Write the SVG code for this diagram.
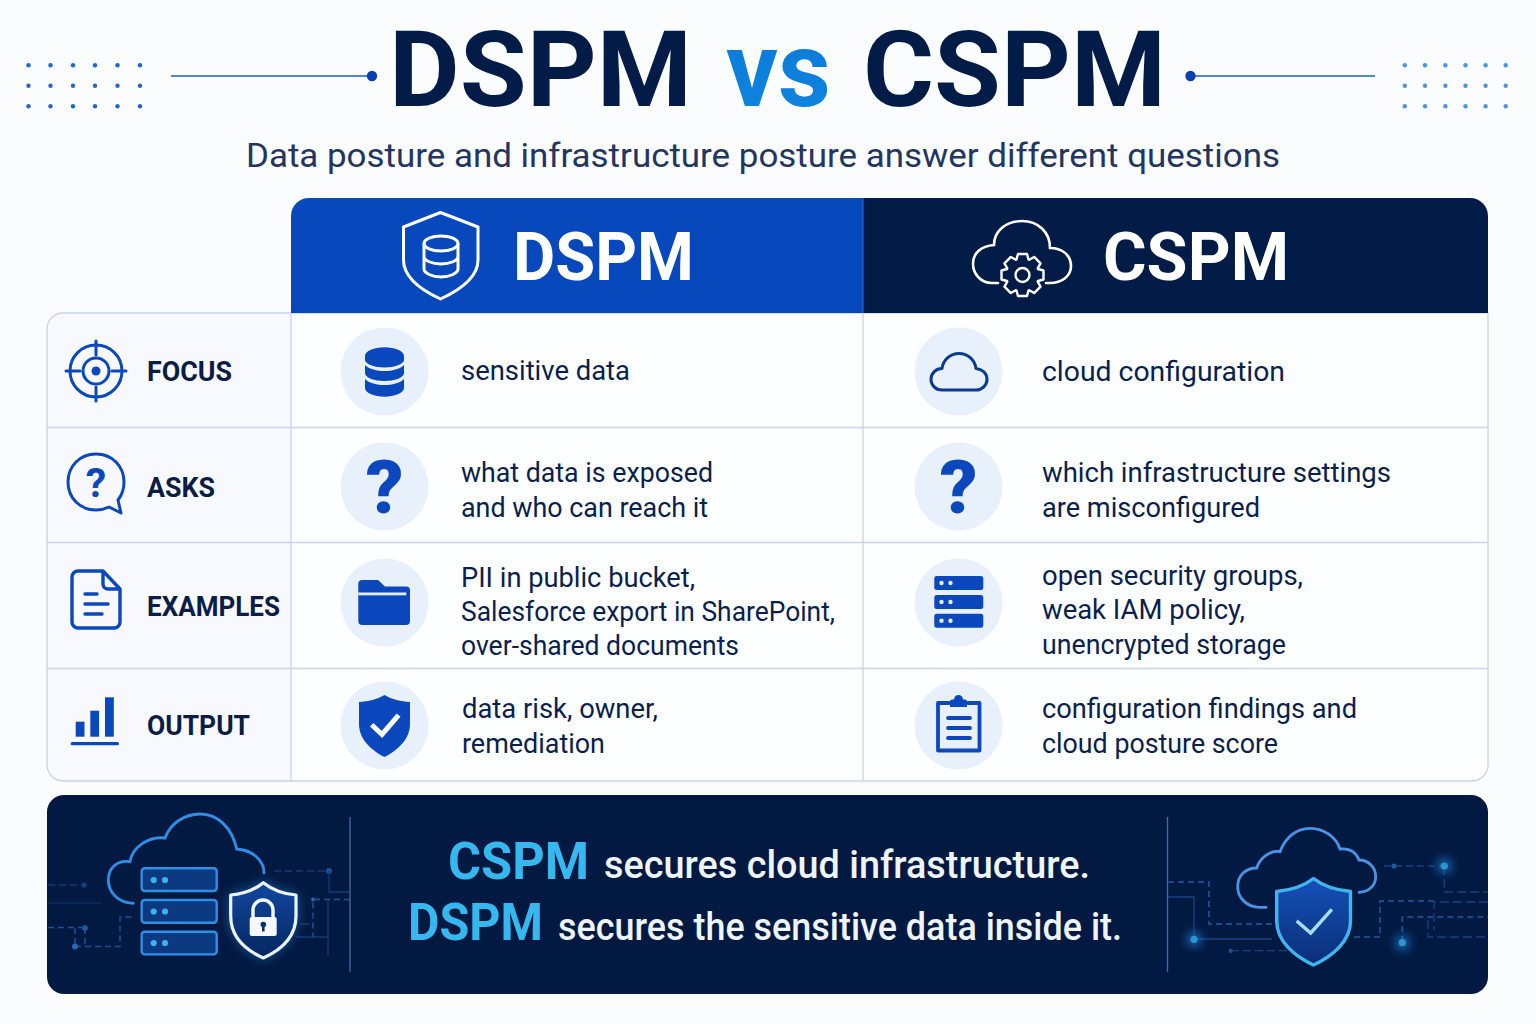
<svg xmlns="http://www.w3.org/2000/svg" width="1536" height="1024" viewBox="0 0 1536 1024">
<style>
text{font-family:Roboto,"Liberation Sans",sans-serif}
.title{font-size:106px;font-weight:700;fill:#031c47}
.sub{font-size:33px;fill:#24365f}
.hd{font-size:66px;font-weight:700;fill:#fff}
.lab{font-size:27px;font-weight:700;fill:#0b1c45}
.body{font-size:28px;fill:#0b1f4d}
.ban{font-size:38px;font-weight:500;fill:#eef4fc}
.banb{font-size:52px;font-weight:700;fill:#36b8ee}
.grid{stroke:#c6d4ec;stroke-width:1.3;fill:none}
.disc{fill:#e8f0fb}
.ic{fill:none;stroke:#0b48bd;stroke-linecap:round;stroke-linejoin:round}
.sol{fill:#0b48bd}
.q{font-size:74px;font-weight:900;fill:#0b48bd;text-anchor:middle}
.circ{fill:none;stroke:#2a6fc4;stroke-width:1.5;stroke-dasharray:6 4}
.circ2{fill:none;stroke:#1b4f96;stroke-width:1.3}
.srv{fill:#0b3a80;stroke:#2f8fe6;stroke-width:2.4}
.sd{fill:#3fb0f2}
</style>
<defs>
<linearGradient id="vs" x1="0" y1="0" x2="0" y2="1"><stop offset="0" stop-color="#0a78d8"/><stop offset="1" stop-color="#0f86e0"/></linearGradient>
<linearGradient id="sh1" x1="0" y1="0" x2="0" y2="1"><stop offset="0" stop-color="#12479f"/><stop offset="1" stop-color="#06265f"/></linearGradient>
<linearGradient id="sh2" x1="0" y1="0" x2="0" y2="1"><stop offset="0" stop-color="#1550b8"/><stop offset="1" stop-color="#0a2f78"/></linearGradient>
<filter id="gl" x="-60%" y="-60%" width="220%" height="220%"><feGaussianBlur stdDeviation="6"/></filter>
<filter id="gl2" x="-200%" y="-200%" width="500%" height="500%"><feGaussianBlur stdDeviation="5"/></filter>
<g id="dots"><circle cx="0" cy="0" r="2.2"/><circle cx="22" cy="0" r="2.2"/><circle cx="44.5" cy="0" r="2.2"/><circle cx="66.5" cy="0" r="2.2"/><circle cx="89" cy="0" r="2.2"/><circle cx="111.5" cy="0" r="2.2"/></g>
<g id="dots2"><circle cx="0" cy="0" r="2.2"/><circle cx="20.2" cy="0" r="2.2"/><circle cx="40.6" cy="0" r="2.2"/><circle cx="60.7" cy="0" r="2.2"/><circle cx="80.8" cy="0" r="2.2"/><circle cx="100.9" cy="0" r="2.2"/></g>
</defs>
<rect width="1536" height="1024" fill="#fbfcfe"/>

<g id="title">
<text class="title" x="389" y="106" textLength="303" lengthAdjust="spacingAndGlyphs">DSPM</text>
<text class="title" x="726" y="106" textLength="105" lengthAdjust="spacingAndGlyphs" style="fill:url(#vs)">vs</text>
<text class="title" x="863" y="106" textLength="303" lengthAdjust="spacingAndGlyphs">CSPM</text>
<text class="sub" x="246" y="167" textLength="1034" lengthAdjust="spacingAndGlyphs">Data posture and infrastructure posture answer different questions</text>
</g>
<g id="decor-left" fill="#1f66d0">
<use href="#dots" x="28.5" y="65.3"/><use href="#dots" x="28.5" y="85.7"/><use href="#dots" x="28.5" y="106.3"/>
<line x1="171" y1="76" x2="372" y2="76" stroke="#1c5cc8" stroke-width="1.5"/>
<circle cx="372" cy="76" r="5.2" fill="#0b3fb0"/>
</g>
<g id="decor-right" fill="#4f93e0">
<use href="#dots2" x="1404.8" y="65.3"/><use href="#dots2" x="1404.8" y="85.7"/><use href="#dots2" x="1404.8" y="106.3"/>
<line x1="1190" y1="76" x2="1375" y2="76" stroke="#1c5cc8" stroke-width="1.5"/>
<circle cx="1190.5" cy="76" r="5.2" fill="#0b3fb0"/>
</g>

<g id="table">
<path d="M291 313H1488V765a16 16 0 0 1-16 16H291Z" fill="#fdfeff"/>
<path d="M291 313H63a16 16 0 0 0-16 16V765a16 16 0 0 0 16 16H291Z" fill="#f7f9fe"/>
<path class="grid" d="M63 313H1488V765a16 16 0 0 1-16 16H63a16 16 0 0 1-16-16V329a16 16 0 0 1 16-16Z"/>
<path class="grid" d="M47 427.500H1488M47 542.500H1488M47 668.500H1488M291 313V781M863 313V781"/>
</g>

<g id="header-dspm">
<path d="M291 313V216a18 18 0 0 1 18-18H863V313Z" fill="#0749bd"/>
<path d="M440.500 212.500L478 227V260C478 278 460 290 440.500 299C421 290 403.500 278 403.500 260V227Z" fill="none" stroke="#fff" stroke-width="3" stroke-linejoin="round"/>
<g fill="none" stroke="#fff" stroke-width="3"><ellipse cx="441" cy="243.500" rx="17" ry="7.500"/><path d="M424 243.500V269C424 273 432 277 441 277S458 273 458 269V243.500M424 256.500C424 260.500 432 264 441 264S458 260.500 458 256.500"/></g>
<text class="hd" x="513" y="280" textLength="181" lengthAdjust="spacingAndGlyphs">DSPM</text>
</g>
<g id="header-cspm">
<path d="M863 198H1470a18 18 0 0 1 18 18V313H863Z" fill="#031c47"/>
<line x1="863" y1="198" x2="863" y2="313" stroke="#2a6fd8" stroke-width="1"/>
<path d="M998 283H992C980 283 973 273 973 264C973 253 981 246 994 245C994 231 1006 221 1022 221C1038 221 1050 232 1050 248C1062 248 1071 255 1071 266C1071 276 1062 283 1050 283H1046" fill="none" stroke="#fff" stroke-width="2.600" stroke-linecap="round"/>
<g transform="translate(1022.500 275)"><path d="M-6-15.500L-4.500-21H4.500L6-15.500L6.720-15.200L11.670-18.030L18.030-11.670L15.200-6.720L15.500-6L21-4.500V4.500L15.500 6L15.200 6.720L18.030 11.670L11.670 18.030L6.720 15.200L6 15.500L4.500 21H-4.500L-6 15.500L-6.720 15.200L-11.670 18.030L-18.030 11.670L-15.200 6.720L-15.500 6L-21 4.500V-4.500L-15.500-6L-15.200-6.720L-18.030-11.670L-11.670-18.030L-6.720-15.200Z" fill="#031c47" stroke="#fff" stroke-width="2.400" stroke-linejoin="round"/><circle r="7" fill="none" stroke="#fff" stroke-width="2.400"/></g>
<text class="hd" x="1103" y="280" textLength="186" lengthAdjust="spacingAndGlyphs">CSPM</text>
</g>

<g id="row-focus">
<g class="ic" stroke-width="3"><circle cx="96" cy="371" r="26"/><circle cx="96" cy="371" r="13"/><path d="M66 371H80M112 371H126M96 341V355M96 387V401"/></g>
<circle cx="96" cy="371" r="4.500" class="sol"/>
<text class="lab" x="147" y="381" textLength="85" lengthAdjust="spacingAndGlyphs">FOCUS</text>
<circle class="disc" cx="384.500" cy="371.500" r="44"/>
<path class="sol" d="M365 356C365 351 374 347.300 384.500 347.300S404 351 404 356V360C404 364 394 367.500 384.500 367.500S365 364 365 360ZM365 365C369 369 377 371 384.500 371S400 369 404 365V373C404 378 394 381 384.500 381S365 378 365 373ZM365 379C369 383 377 385 384.500 385S400 383 404 379V388C404 393 394 396.700 384.500 396.700S365 393 365 388Z"/>
<text class="body" x="461" y="380" textLength="169" lengthAdjust="spacingAndGlyphs">sensitive data</text>
<circle class="disc" cx="958.500" cy="371.500" r="44"/>
<path d="M947 390H942C935 390 931 384.500 931 379.500C931 373 936 368.500 942 368.500C943 360 950 353.500 959 353.500C968 353.500 975 360 976 368.500C982 369 987 373 987 379.500C987 385 982 390 976 390Z" fill="none" stroke="#0b3a8f" stroke-width="3" stroke-linejoin="round"/>
<text class="body" x="1042" y="381" textLength="243" lengthAdjust="spacingAndGlyphs">cloud configuration</text>
</g>

<g id="row-asks">
<path class="ic" stroke-width="3" d="M96 454C80 454 68 466 68 482C68 498 80 510 96 510C101 510 105 509 109 507L121 513L118 500C122 495 124 489 124 482C124 466 112 454 96 454Z"/>
<text x="96" y="497" font-size="41" font-weight="700" text-anchor="middle" fill="#0b48bd">?</text>
<text class="lab" x="147" y="497" textLength="68" lengthAdjust="spacingAndGlyphs">ASKS</text>
<circle class="disc" cx="384.500" cy="486.500" r="44"/>
<text class="q" x="384.500" y="513">?</text>
<text class="body" x="461" y="482" textLength="252" lengthAdjust="spacingAndGlyphs">what data is exposed</text>
<text class="body" x="461" y="517" textLength="247" lengthAdjust="spacingAndGlyphs">and who can reach it</text>
<circle class="disc" cx="958.500" cy="486.500" r="44"/>
<text class="q" x="958.500" y="513">?</text>
<text class="body" x="1042" y="482" textLength="349" lengthAdjust="spacingAndGlyphs">which infrastructure settings</text>
<text class="body" x="1042" y="517" textLength="218" lengthAdjust="spacingAndGlyphs">are misconfigured</text>
</g>

<g id="row-examples">
<path class="ic" stroke-width="3.400" d="M78 571H103L120 589V622a6 6 0 0 1-6 6H78a6 6 0 0 1-6-6V577a6 6 0 0 1 6-6ZM103 571V584a5 5 0 0 0 5 5H120M85 594H97M85 604H108M85 614H102"/>
<text class="lab" x="147" y="616" textLength="133" lengthAdjust="spacingAndGlyphs">EXAMPLES</text>
<circle class="disc" cx="384.500" cy="602.500" r="44"/>
<path class="sol" d="M358.300 584a4 4 0 0 1 4-4H378L385 586.500H406a4 4 0 0 1 4 4V621a4 4 0 0 1-4 4H362.300a4 4 0 0 1-4-4Z"/>
<rect x="358.300" y="592.500" width="48" height="2.800" fill="#e8f0fb"/>
<text class="body" x="461" y="587" textLength="234" lengthAdjust="spacingAndGlyphs">PII in public bucket,</text>
<text class="body" x="461" y="621" textLength="374" lengthAdjust="spacingAndGlyphs">Salesforce export in SharePoint,</text>
<text class="body" x="461" y="655" textLength="278" lengthAdjust="spacingAndGlyphs">over-shared documents</text>
<circle class="disc" cx="958.500" cy="602.500" r="44"/>
<g class="sol"><rect x="934.300" y="576" width="49" height="14" rx="2.500"/><rect x="934.300" y="595" width="49" height="14" rx="2.500"/><rect x="934.300" y="613.700" width="49" height="14" rx="2.500"/></g>
<g fill="#e8f0fb"><circle cx="941.500" cy="583" r="2.200"/><circle cx="950.500" cy="583" r="2.200"/><circle cx="941.500" cy="602" r="2.200"/><circle cx="950.500" cy="602" r="2.200"/><circle cx="941.500" cy="620.700" r="2.200"/><circle cx="950.500" cy="620.700" r="2.200"/></g>
<text class="body" x="1042" y="585" textLength="261" lengthAdjust="spacingAndGlyphs">open security groups,</text>
<text class="body" x="1042" y="619" textLength="203" lengthAdjust="spacingAndGlyphs">weak IAM policy,</text>
<text class="body" x="1042" y="654" textLength="244" lengthAdjust="spacingAndGlyphs">unencrypted storage</text>
</g>

<g id="row-output">
<g class="sol"><rect x="75.700" y="721.700" width="8.800" height="15"/><rect x="90.300" y="710.700" width="8.800" height="26"/><rect x="105" y="697.300" width="8.800" height="39.400"/><rect x="70.700" y="742" width="48.300" height="3.300" rx="1.600"/></g>
<text class="lab" x="147" y="735" textLength="103" lengthAdjust="spacingAndGlyphs">OUTPUT</text>
<circle class="disc" cx="384.500" cy="725.500" r="44"/>
<path class="sol" d="M384.500 695C392 699.500 401 701.500 410 702V724C410 739 398 750 384.500 757C371 750 359 739 359 724V702C368 701.500 377 699.500 384.500 695Z"/>
<path d="M373.500 726.500L382 734.500L397 717" fill="none" stroke="#fff" stroke-width="5" stroke-linecap="square"/>
<text class="body" x="462" y="718" textLength="196" lengthAdjust="spacingAndGlyphs">data risk, owner,</text>
<text class="body" x="462" y="753" textLength="143" lengthAdjust="spacingAndGlyphs">remediation</text>
<circle class="disc" cx="958.500" cy="725.500" r="44"/>
<path class="ic" stroke-width="3.800" d="M949 703H938V750.500H979.500V703H968M948 718H970M948 728H970M948 738H970"/>
<path class="sol" d="M950 707V701.500a2 2 0 0 1 2-2H954A4.500 4.500 0 0 1 963 699.500H965a2 2 0 0 1 2 2V707Z"/>
<text class="body" x="1042" y="718" textLength="315" lengthAdjust="spacingAndGlyphs">configuration findings and</text>
<text class="body" x="1042" y="753" textLength="236" lengthAdjust="spacingAndGlyphs">cloud posture score</text>
</g>

<g id="banner">
<rect x="47" y="795" width="1441" height="199" rx="17" fill="#021a42"/>
<line x1="350" y1="817" x2="350" y2="972" stroke="#4a68a8" stroke-width="1.300"/>
<line x1="1167.500" y1="817" x2="1167.500" y2="972" stroke="#4a68a8" stroke-width="1.300"/>
<text class="banb" x="448" y="879" textLength="141" lengthAdjust="spacingAndGlyphs">CSPM</text>
<text class="ban" x="604" y="878" textLength="486" lengthAdjust="spacingAndGlyphs">secures cloud infrastructure.</text>
<text class="banb" x="408" y="940" textLength="135" lengthAdjust="spacingAndGlyphs">DSPM</text>
<text class="ban" x="558" y="940" textLength="564" lengthAdjust="spacingAndGlyphs">secures the sensitive data inside it.</text>
</g>

<g id="banner-left">
<g opacity=".65">
<path class="circ2" d="M48 885H84" stroke-dasharray="7 4"/><circle cx="84" cy="885" r="2.500" fill="#1f5aa8"/><path class="circ2" d="M48 903H102" opacity=".5"/>
<path class="circ" d="M48 927.500H85M75 928V946.500M85 928V946.500"/><circle cx="85" cy="928" r="2.800" fill="#2f7fd8"/>
<path class="circ" d="M75 946.500H120V917H133"/><circle cx="75" cy="946.500" r="3" fill="#3c8fe8"/>
<path class="circ2" d="M274 871H329" stroke-dasharray="7 4"/><circle cx="329" cy="871" r="3" fill="#2a6fc0"/>
<path class="circ2" d="M329 871V892H350M328 900V955M296 937H329M300 924H310"/>
<path class="circ" d="M350 899.500H313V937"/><circle cx="313" cy="899.500" r="2" fill="#3c8fe8"/>
</g>
<path d="M133.300 903.300C118 903 108.300 892 108.300 880C108.300 868 117 860 130 861.700C132 848 148 836 165 838C170 824 184 814 200 814C218 814 232 828 236.700 849C252 850 264 860 264 873" fill="none" stroke="#2f8fe6" stroke-width="2.800" stroke-linecap="round"/>
<rect class="srv" x="141.700" y="868.300" width="75" height="22.700" rx="3"/><rect class="srv" x="141.700" y="900" width="75" height="22.700" rx="3"/><rect class="srv" x="141.700" y="931.700" width="75" height="22.700" rx="3"/>
<g class="sd"><circle cx="153.700" cy="880" r="3.100"/><circle cx="165" cy="880" r="3.100"/><circle cx="153.700" cy="911.500" r="3.100"/><circle cx="165" cy="911.500" r="3.100"/><circle cx="153.700" cy="943" r="3.100"/><circle cx="165" cy="943" r="3.100"/></g>
<path d="M263.300 880.700C272 888 283 893 297.300 894V916C297.300 937 281 951 263.300 959C245.500 951 229.300 937 229.300 916V894C243 893 255 888 263.300 880.700Z" fill="#2f8fe6" opacity=".55" filter="url(#gl)"/>
<path d="M263.300 882.700C272 889.500 283 894 296 895V916C296 937 281 950 263.300 958C245.500 950 230.700 937 230.700 916V895C243 894 255 889.500 263.300 882.700Z" fill="url(#sh1)" stroke="#e8f3fd" stroke-width="3.200" stroke-linejoin="round"/>
<path d="M253 917V910a10 10 0 0 1 20 0V917" fill="none" stroke="#f4f8fd" stroke-width="3.400"/>
<rect x="249.700" y="917" width="27" height="19" rx="2" fill="#f4f8fd"/>
<circle cx="263.300" cy="924.500" r="2.800" fill="#0a2f70"/><rect x="262" y="925" width="2.600" height="6.500" fill="#0a2f70"/>
</g>

<g id="banner-right">
<g opacity=".75">
<path class="circ" d="M1168 882H1209V924H1272"/>
<path class="circ2" d="M1168 897H1194V939H1272"/>
<circle cx="1194" cy="939.300" r="8" fill="#2f9bff" opacity=".7" filter="url(#gl2)"/><circle cx="1194" cy="939.300" r="3.600" fill="#3cc0ff"/>
<path class="circ2" d="M1231 950.700H1288" stroke-dasharray="8 4"/><circle cx="1230.700" cy="950.700" r="2.200" fill="#2a5fa8"/>
<path class="circ2" d="M1384 866H1444" stroke-dasharray="7 4"/><circle cx="1394" cy="866" r="2.600" fill="#2a6fc0"/>
<path class="circ2" d="M1444.300 866V892H1488" stroke-dasharray="9 4"/>
<circle cx="1444.300" cy="866" r="8" fill="#2f9bff" opacity=".7" filter="url(#gl2)"/><circle cx="1444.300" cy="866" r="3.600" fill="#3cc0ff"/>
<path class="circ" d="M1354 937H1380V901H1434"/>
<path class="circ" d="M1402.300 942V917H1488"/>
<path class="circ2" d="M1488 902H1434V930M1428 920V937H1488" stroke-dasharray="9 4"/>
<circle cx="1402.300" cy="942.700" r="8" fill="#2f9bff" opacity=".7" filter="url(#gl2)"/><circle cx="1402.300" cy="942.700" r="3.600" fill="#3cc0ff"/>
</g>
<path d="M1266 907.300H1259C1247 907 1237.700 898 1237.700 886.700C1237.700 876 1245 868 1256.700 868C1260 858 1270 850 1280 851.700C1285 838 1296 828.300 1310 828.300C1324 828.300 1336 837 1340 849C1350 848 1356 852 1359 860C1368 860 1375.700 867 1375.700 876.700C1375.700 885 1369 892.300 1359 892.300" fill="none" stroke="#4b93e4" stroke-width="2.800" stroke-linecap="round"/>
<path d="M1313.500 878.500C1323 886 1336 890 1350.500 891.500V921C1350.500 941 1333 956 1313.500 965C1294 956 1276.700 941 1276.700 921V891.500C1291 890 1304 886 1313.500 878.500Z" fill="url(#sh2)" stroke="#42b4ee" stroke-width="3.400" stroke-linejoin="round"/>
<path d="M1298 922L1310.700 933L1330.700 910.700" fill="none" stroke="#a9dcf6" stroke-width="3.400" stroke-linecap="square"/>
</g>
</svg>
